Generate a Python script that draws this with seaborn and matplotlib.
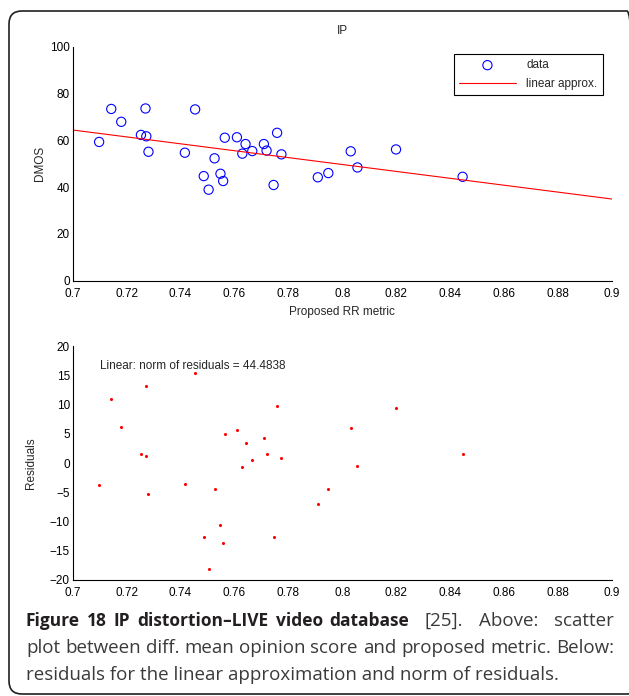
import numpy as np
import pandas as pd
import matplotlib
matplotlib.use('Agg')
import matplotlib.pyplot as plt
import seaborn as sns
from matplotlib.patches import FancyBboxPatch
from matplotlib.ticker import MultipleLocator, FuncFormatter

# Values
metric = [0.7098, 0.7143, 0.7180, 0.7253, 0.7270, 0.7273, 0.7281, 0.7416,
          0.7454, 0.7486, 0.7504, 0.7526, 0.7548, 0.7558, 0.7564, 0.7609,
          0.7629, 0.7641, 0.7666, 0.7709, 0.7719, 0.7745, 0.7758, 0.7774,
          0.7909, 0.7948, 0.8031, 0.8056, 0.8199, 0.8446]
dmos = [59.3, 73.4, 67.9, 62.3, 73.6, 61.7, 55.1, 54.7,
        73.2, 44.7, 38.9, 52.3, 45.7, 42.6, 61.1, 61.3,
        54.3, 58.4, 55.4, 58.4, 55.6, 40.9, 63.2, 54.0,
        44.2, 46.0, 55.3, 48.4, 56.1, 44.4]
residuals = [-3.76, 10.94, 6.15, 1.48, 13.22, 1.20, -5.24, -3.65,
             15.38, -12.65, -18.06, -4.39, -10.60, -13.68, 4.96, 5.64,
             -0.68, 3.36, 0.51, 4.27, 1.48, -12.71, 9.74, 0.91,
             -6.95, -4.44, 5.98, -0.57, 9.34, 1.48]
fit_x = [0.7, 0.9]
fit_y = [64.4, 34.9]
norm_label = 'Linear: norm of residuals = 44.4838'

caption_bold = 'Figure 18 IP distortion\u2013LIVE video database'
caption_line1 = '[25]. Above: scatter'
caption_line2 = 'plot between diff. mean opinion score and proposed metric. Below:'
caption_line3 = 'residuals for the linear approximation and norm of residuals.'

df = pd.DataFrame({'metric': metric, 'dmos': dmos, 'resid': residuals})

sns.set_style('white')
plt.rcParams['font.family'] = ['Liberation Sans', 'DejaVu Sans']
FS = 8.5
plt.rcParams['font.size'] = FS

W, H = 629, 696
fig = plt.figure(figsize=(W / 100, H / 100), dpi=100)


def px_box(l, t, r, b):
    return [l / W, 1 - b / H, (r - l) / W, (b - t) / H]


ax1 = fig.add_axes(px_box(72.7, 46.7, 612, 280.7))
ax2 = fig.add_axes(px_box(72.7, 346, 612, 580))

# Top: scatter + linear approximation
sns.scatterplot(data=df, x='metric', y='dmos', ax=ax1, marker='o', s=44,
                fc='none', ec='blue', linewidth=0.8, label='data')
sns.lineplot(x=fit_x, y=fit_y, ax=ax1, color='red', linewidth=0.8,
             label='linear approx.')
ax1.set_ylim(0, 100)
ax1.yaxis.set_major_locator(MultipleLocator(20))
ax1.set_title('IP', fontsize=FS, pad=9)
ax1.set_xlabel('Proposed RR metric', fontsize=FS)
ax1.set_ylabel('DMOS', fontsize=FS)
ax1.legend(loc='upper right', bbox_to_anchor=(0.983, 0.969), frameon=True,
           fancybox=False, edgecolor='black', framealpha=1, fontsize=FS,
           handlelength=4.8, borderpad=0.45, labelspacing=0.55,
           handletextpad=0.9, borderaxespad=0)
ax1.get_legend().get_frame().set_linewidth(0.8)

# Bottom: residuals
sns.scatterplot(data=df, x='metric', y='resid', ax=ax2, marker='o', s=5,
                color='red', linewidth=0)
ax2.set_ylim(-20, 20)
ax2.yaxis.set_major_locator(MultipleLocator(5))
ax2.set_xlabel('')
ax2.set_ylabel('Residuals', fontsize=FS)
ax2.text(0.71, 16.6, norm_label, va='center', ha='left', fontsize=FS)

fmt = FuncFormatter(lambda v, _: f'{v:g}'.replace('-', '\u2212'))
for ax in (ax1, ax2):
    ax.set_xlim(0.7, 0.9)
    ax.xaxis.set_major_locator(MultipleLocator(0.02))
    ax.xaxis.set_major_formatter(fmt)
    ax.yaxis.set_major_formatter(fmt)
    ax.tick_params(direction='in', length=3, width=0.6, labelsize=FS,
                   colors='black')
    ax.tick_params(axis='x', pad=5)
    ax.tick_params(axis='y', pad=2)
    for side in ('top', 'right'):
        ax.spines[side].set_visible(False)
    for side in ('left', 'bottom'):
        ax.spines[side].set_color('black')
        ax.spines[side].set_linewidth(0.8)
    ax.set_facecolor('white')

ax1.yaxis.set_label_coords(-0.05, 0.5)
ax2.yaxis.set_label_coords(-0.067, 0.5)
ax1.xaxis.set_label_coords(0.5, -0.11)

# Caption (justified like the journal layout)
cap_font = ['Open Sans', 'DejaVu Sans']
cap_size = 13.5
bold_size = 12.5
renderer = fig.canvas.get_renderer()
LEFT, RIGHT = 26, 614


def justify_line(words, y_px, bold_gap=None):
    # words: list of (text, bold); gaps before bold words stay fixed
    items = []
    for txt, bold in words:
        t = fig.text(0, 1 - y_px / H, txt, family=cap_font,
                     fontsize=bold_size if bold else cap_size,
                     fontweight='bold' if bold else 'normal',
                     va='center', color='#231f20' if bold else '#3a3a3a')
        items.append((t, bold))
    widths = [t.get_window_extent(renderer).width for t, _ in items]
    n_bold_gaps = sum(1 for _, b in items[1:] if b) if bold_gap else 0
    n_gaps = len(items) - 1
    gap = (RIGHT - LEFT - sum(widths) - (bold_gap or 0) * n_bold_gaps) / (n_gaps - n_bold_gaps)
    x = LEFT
    for i, ((t, bold), w) in enumerate(zip(items, widths)):
        t.set_x(x / W)
        nxt_bold = i + 1 < len(items) and items[i + 1][1]
        x += w + (bold_gap if (bold_gap and nxt_bold) else gap)


line1 = [(w, True) for w in caption_bold.split()] + \
        [(w, False) for w in caption_line1.split()]
justify_line(line1, 621, bold_gap=7)
justify_line([(w, False) for w in caption_line2.split()], 648)
fig.text(LEFT / W, 1 - 675 / H, caption_line3, fontsize=cap_size,
         family=cap_font, va='center', color='#3a3a3a')

# Rounded frame around the figure
frame = FancyBboxPatch((0.09, 0.02), 6.40 - 0.09, 6.85 - 0.02,
                       boxstyle='round,pad=0,rounding_size=0.13',
                       transform=fig.dpi_scale_trans, fill=False,
                       ec='#231f20', lw=1.2)
fig.add_artist(frame)

fig.savefig('out.png', dpi=100)
